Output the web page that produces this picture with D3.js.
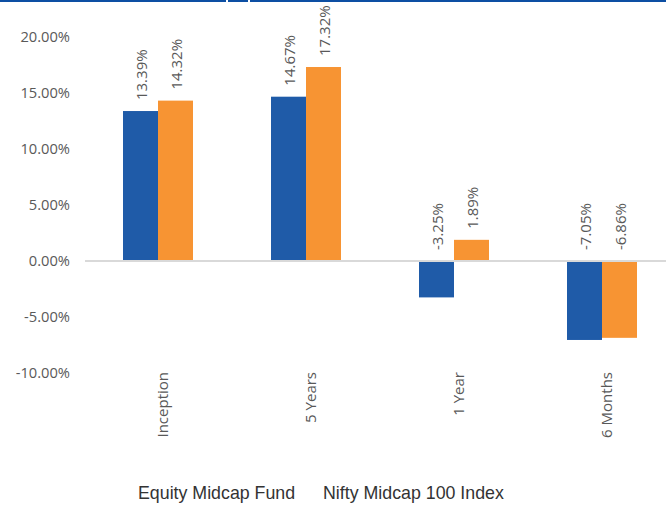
<!DOCTYPE html>
<html>
<head>
<meta charset="utf-8">
<script src="https://cdn.jsdelivr.net/npm/d3@7"></script>
<style>
  html, body { margin: 0; padding: 0; background: #fff; overflow: hidden; }
  svg { display: block; }
</style>
</head>
<body>
<div id="chart"></div>
<script>
const categories = ["Inception", "5 Years", "1 Year", "6 Months"];
const seriesNames = ["Equity Midcap Fund", "Nifty Midcap 100 Index"];
const fundValues = [13.39, 14.67, -3.25, -7.05];
const indexValues = [14.32, 17.32, 1.89, -6.86];
const yTicks = [20, 15, 10, 5, 0, -5, -10];

const width = 666, height = 505,
    blue = "#1f5ba8", orange = "#f79433",
    text_color = "#595959", font = "'Open Sans', sans-serif";

const rows = categories.map((c, i) => ({cat: c, vals: [fundValues[i], indexValues[i]]}));

const svg = d3.select("#chart").append("svg")
    .attr("width", width)
    .attr("height", height);

// blue rule at the very top (with two small breaks)
[[0, 226], [228, 248], [250, width]].forEach(s => {
    svg.append("rect").attr("x", s[0]).attr("y", 0)
        .attr("width", s[1] - s[0]).attr("height", 2).attr("fill", "#0d4fa3");
});

const y = d3.scaleLinear().domain([-10, 20]).range([373, 37]);

const x0 = d3.scaleBand().domain(categories).range([84, 676]);
const barW = 35;
const x1 = d3.scaleBand().domain([0, 1])
    .range([x0.bandwidth() / 2 - barW, x0.bandwidth() / 2 + barW]);

// y axis labels
const yAxis = d3.axisLeft(y).tickValues(yTicks)
    .tickFormat(d => d.toFixed(2) + "%").tickSize(0).tickPadding(0);
svg.append("g").attr("transform", "translate(70,0)").call(yAxis)
    .call(g => g.select(".domain").remove())
    .selectAll("text")
    .attr("font-family", font).attr("font-size", "14.7px").attr("fill", text_color);

// bars
const groups = svg.append("g").selectAll("g")
    .data(rows).enter().append("g")
    .attr("transform", d => "translate(" + x0(d.cat) + ",0)");

groups.selectAll("rect")
    .data(d => d.vals.map((v, k) => ({k: k, v: v})))
    .enter().append("rect")
    .attr("x", d => x1(d.k))
    .attr("width", x1.bandwidth())
    .attr("y", d => y(Math.max(0, d.v)))
    .attr("height", d => Math.abs(y(d.v) - y(0)))
    .attr("fill", d => d.k === 0 ? blue : orange);

// zero line
svg.append("line")
    .attr("x1", 85).attr("x2", width)
    .attr("y1", y(0)).attr("y2", y(0))
    .attr("stroke", "#d9d9d9").attr("stroke-width", 2);

// value labels
groups.selectAll("text.val")
    .data(d => d.vals.map((v, k) => ({k: k, v: v})))
    .enter().append("text")
    .attr("class", "val")
    .attr("transform", d => {
        let tx = x1(d.k) + x1.bandwidth() / 2 + 6;
        let ty = y(Math.max(0, d.v)) - 11;
        return "translate(" + tx + "," + ty + ") rotate(-90)";
    })
    .attr("text-anchor", "start")
    .attr("font-family", font).attr("font-size", "15px").attr("fill", text_color)
    .text(d => d.v.toFixed(2) + "%");

// category labels
svg.append("g").selectAll("text")
    .data(categories).enter().append("text")
    .attr("transform", d => "translate(" + (x0(d) + x0.bandwidth() / 2 + 10) + ",372) rotate(-90)")
    .attr("text-anchor", "end")
    .attr("font-family", font).attr("font-size", "15px").attr("fill", text_color)
    .text(d => d);

// legend (text only)
const legend = svg.append("g");
legend.append("text").attr("x", 138).attr("y", 499)
    .attr("font-family", "'Liberation Sans', Arial, sans-serif").attr("font-size", "17.8px").attr("fill", "#333")
    .text(seriesNames[0]);
legend.append("text").attr("x", 323).attr("y", 499)
    .attr("font-family", "'Liberation Sans', Arial, sans-serif").attr("font-size", "17.8px").attr("fill", "#333")
    .text(seriesNames[1]);
</script>
</body>
</html>
